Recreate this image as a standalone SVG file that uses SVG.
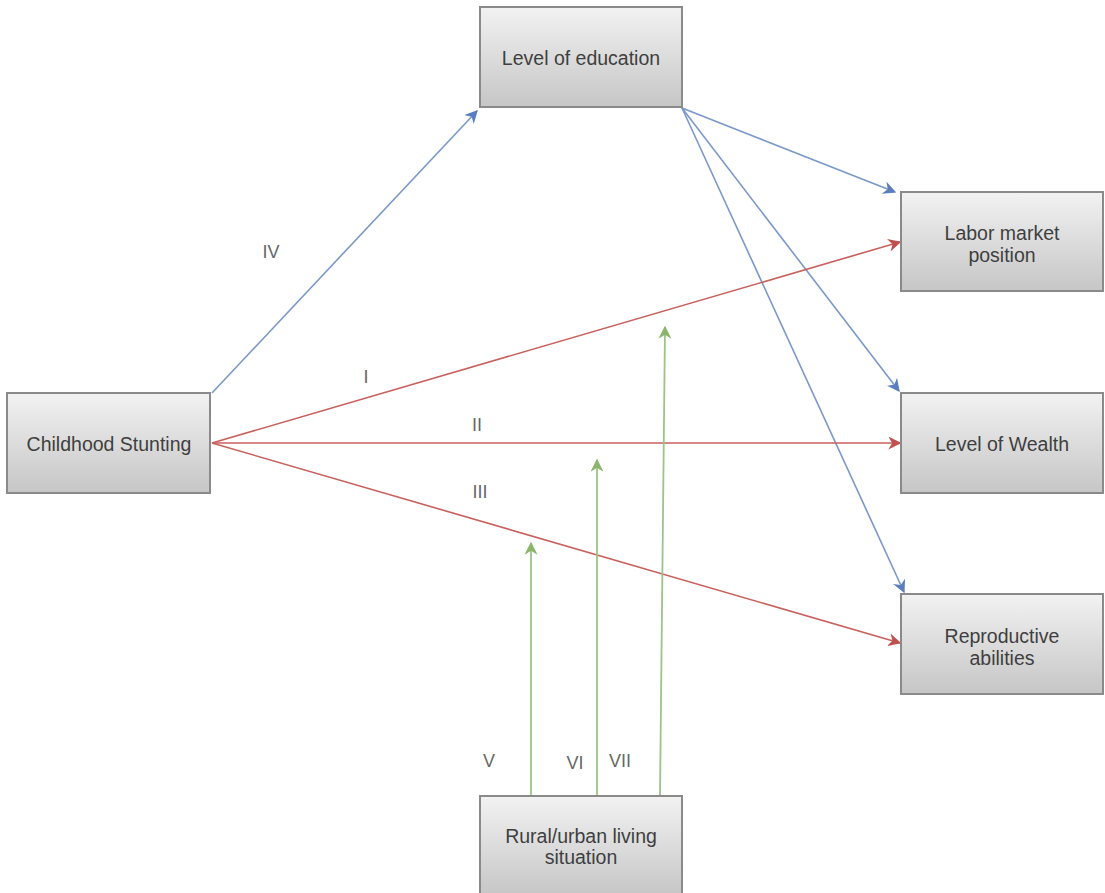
<svg xmlns="http://www.w3.org/2000/svg" width="1105" height="893" viewBox="0 0 1105 893">
<defs>
<linearGradient id="g" x1="0" y1="0" x2="0" y2="1">
<stop offset="0" stop-color="#f2f2f2"/>
<stop offset="1" stop-color="#c6c6c6"/>
</linearGradient>
<marker id="ab" viewBox="0 0 10 10" refX="9" refY="5" markerWidth="13" markerHeight="13" markerUnits="userSpaceOnUse" orient="auto"><path d="M0,0 L10,5 L0,10 L3,5 Z" fill="#5b7fbd"/></marker>
<marker id="ar" viewBox="0 0 10 10" refX="9" refY="5" markerWidth="13" markerHeight="13" markerUnits="userSpaceOnUse" orient="auto"><path d="M0,0 L10,5 L0,10 L3,5 Z" fill="#c0504d"/></marker>
<marker id="ag" viewBox="0 0 10 10" refX="9" refY="5" markerWidth="13" markerHeight="13" markerUnits="userSpaceOnUse" orient="auto"><path d="M0,0 L10,5 L0,10 L3,5 Z" fill="#8ab56a"/></marker>
</defs>
<style>
.box{fill:url(#g);stroke:#8a8a8a;stroke-width:2}
.t{font-family:"Liberation Sans",Arial,sans-serif;font-size:19.5px;fill:#3f3f3f;text-anchor:middle}
.l{font-family:"Liberation Sans",Arial,sans-serif;font-size:18px;fill:#666;text-anchor:middle}
.b{stroke:#7a98c8;stroke-width:1.6;fill:none}
.r{stroke:#c8615e;stroke-width:1.6;fill:none}
.gr{stroke:#9cc487;stroke-width:1.8;fill:none}
</style>
<rect width="1105" height="893" fill="#fff"/>
<g id="connectors">
<line class="b" x1="212" y1="393" x2="477" y2="111" marker-end="url(#ab)"/>
<line class="b" x1="682" y1="108" x2="895" y2="192" marker-end="url(#ab)"/>
<line class="b" x1="682" y1="108" x2="899" y2="391" marker-end="url(#ab)"/>
<line class="b" x1="682" y1="108" x2="904" y2="592" marker-end="url(#ab)"/>
<line class="r" x1="212" y1="443" x2="900" y2="242" marker-end="url(#ar)"/>
<line class="r" x1="212" y1="443" x2="900" y2="443" marker-end="url(#ar)"/>
<line class="r" x1="212" y1="443" x2="900" y2="643" marker-end="url(#ar)"/>
<line class="gr" x1="531" y1="796" x2="531" y2="543" marker-end="url(#ag)"/>
<line class="gr" x1="597" y1="796" x2="597" y2="460" marker-end="url(#ag)"/>
<line class="gr" x1="660" y1="797" x2="665" y2="327" marker-end="url(#ag)"/>
<text class="l" x="271" y="258">IV</text>
<text class="l" x="366" y="383">I</text>
<text class="l" x="477" y="431">II</text>
<text class="l" x="480" y="498">III</text>
<text class="l" x="489" y="767">V</text>
<text class="l" x="575" y="769">VI</text>
<text class="l" x="620" y="767">VII</text>
</g>
<g id="education"><rect class="box" x="480" y="7" width="202" height="100"/><text class="t" x="581" y="65">Level of education</text></g>
<g id="labor"><rect class="box" x="901" y="192" width="202" height="99"/><text class="t" x="1002" y="240">Labor market</text><text class="t" x="1002" y="262">position</text></g>
<g id="stunting"><rect class="box" x="7" y="393" width="203" height="100"/><text class="t" x="109" y="451">Childhood Stunting</text></g>
<g id="wealth"><rect class="box" x="901" y="393" width="202" height="100"/><text class="t" x="1002" y="451">Level of Wealth</text></g>
<g id="reproductive"><rect class="box" x="901" y="594" width="202" height="100"/><text class="t" x="1002" y="643">Reproductive</text><text class="t" x="1002" y="665">abilities</text></g>
<g id="rural"><rect class="box" x="480" y="796" width="202" height="100"/><text class="t" x="581" y="843">Rural/urban living</text><text class="t" x="581" y="864">situation</text></g>
</svg>
